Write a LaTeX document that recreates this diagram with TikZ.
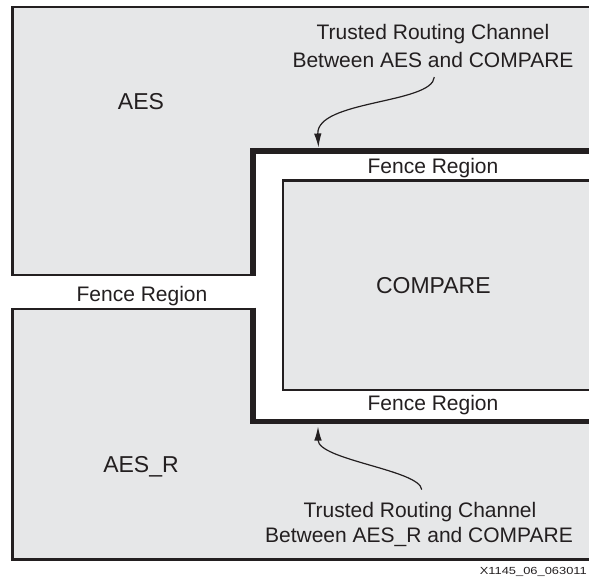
\documentclass[tikz,border=0pt]{standalone}
\usepackage{graphicx}
\usepackage{fontspec}
\setmainfont{Liberation Sans}
\usetikzlibrary{arrows.meta}

\definecolor{blockgray}{HTML}{E6E7E8}
\definecolor{inkline}{HTML}{231F20}

\tikzset{
  region/.style={fill=blockgray, draw=inkline, line width=2.4pt, line join=miter},
  fenceedge/.style={draw=inkline, line width=5.5pt, line join=miter},
  blocklabel/.style={inner sep=0pt, anchor=base, text=inkline, font=\fontsize{23}{28}\selectfont},
  fencelabel/.style={inner sep=0pt, anchor=base, text=inkline, font=\fontsize{21}{26}\selectfont},
  notelabel/.style={inner sep=0pt, anchor=base, text=inkline, font=\fontsize{21}{26}\selectfont},
  figid/.style={inner sep=0pt, anchor=base east, text=inkline, font=\fontsize{10.3}{12}\selectfont},
  channelarrow/.style={draw=inkline, line width=1.2pt, -{Latex[length=14pt,width=7.5pt]}}
}

\begin{document}
\begin{tikzpicture}[x=1pt, y=-1pt]
  \useasboundingbox (0,0) rectangle (589,578);
  \fill[white] (0,0) rectangle (589,578);
  \clip (0,0) rectangle (589,578);

  % AES block (upper), notched around the COMPARE fence
  \path[region] (12.5,7) -- (610,7) -- (610,151) -- (253,151)
                -- (253,274.7) -- (12.5,274.7) -- cycle;
  \draw[fenceedge] (610,151) -- (253,151) -- (253,276);

  % AES_R block (lower)
  \path[region] (12.5,309) -- (253,309) -- (253,421.3) -- (610,421.3)
                -- (610,559.5) -- (12.5,559.5) -- cycle;
  \draw[fenceedge] (253,307.7) -- (253,421.3) -- (610,421.3);

  % COMPARE block
  \path[region, line width=2.3pt] (283,180.5) rectangle (610,390);

  % block names
  \node[blocklabel] (aes)     at (141,109)   {AES};
  \node[blocklabel] (aesr)    at (141,472)   {AES\_R};
  \node[blocklabel] (compare) at (433.3,293) {COMPARE};

  % fence region labels
  \node[fencelabel] (fenceleft)   at (142,301)   {Fence Region};
  \node[fencelabel] (fencetop)    at (433,173.3) {Fence Region};
  \node[fencelabel] (fencebottom) at (433,410.7) {Fence Region};

  % trusted routing channel notes
  \node[notelabel] (toptitle) at (433,40)   {Trusted Routing Channel};
  \node[notelabel] (topsub)   at (433,68)   {Between AES and COMPARE};
  \node[notelabel] (bottitle) at (420,517)  {Trusted Routing Channel};
  \node[notelabel] (botsub)   at (419,542.7){Between AES\_R and COMPARE};

  % arrow targets on the fence boundary
  \coordinate (toptip) at (318.5,147.5);
  \coordinate (bottip) at (318,426.5);

  \draw[channelarrow] ([xshift=1.3pt,yshift=-8.7pt]topsub.south)
        .. controls (432,104) and (316,100) .. (toptip);
  \draw[channelarrow] ([xshift=1.7pt,yshift=12pt]bottitle.north)
        .. controls (420,470) and (318,460) .. (bottip);

  % figure identifier
  \node[figid] (figid) at (587,574) {\scalebox{1.25}[1]{X1145\_06\_063011}};
\end{tikzpicture}
\end{document}
